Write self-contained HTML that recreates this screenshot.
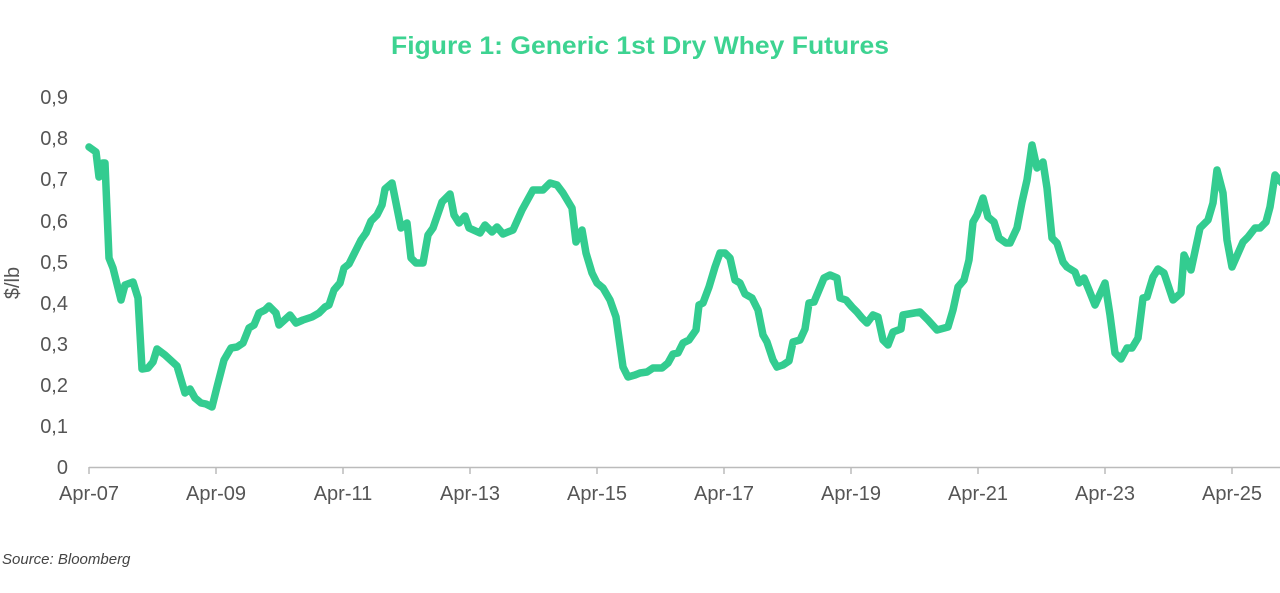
<!DOCTYPE html>
<html><head><meta charset="utf-8"><style>
body{margin:0;background:#fff;width:1280px;height:588px;overflow:hidden;font-family:"Liberation Sans",sans-serif}
</style></head><body>
<svg width="1280" height="588" viewBox="0 0 1280 588" xmlns="http://www.w3.org/2000/svg">
<text x="640" y="54" text-anchor="middle" font-family="Liberation Sans Narrow, Liberation Sans, sans-serif" font-weight="bold" font-size="25" fill="#3dd391" textLength="498" lengthAdjust="spacingAndGlyphs">Figure 1: Generic 1st Dry Whey Futures</text>
<g font-size="20" fill="#555" text-anchor="end">
<text x="68" y="474">0</text>
<text x="68" y="433">0,1</text>
<text x="68" y="392">0,2</text>
<text x="68" y="351">0,3</text>
<text x="68" y="310">0,4</text>
<text x="68" y="269">0,5</text>
<text x="68" y="228">0,6</text>
<text x="68" y="186">0,7</text>
<text x="68" y="145">0,8</text>
<text x="68" y="104">0,9</text>
</g>
<text transform="translate(19,283) rotate(-90)" text-anchor="middle" font-size="20" fill="#555">$/lb</text>
<line x1="89" y1="467.5" x2="1280" y2="467.5" stroke="#bbb" stroke-width="1.5"/>
<g stroke="#bbb" stroke-width="1.5">
<line x1="89" y1="467" x2="89" y2="474"/><line x1="216" y1="467" x2="216" y2="474"/><line x1="343" y1="467" x2="343" y2="474"/><line x1="470" y1="467" x2="470" y2="474"/><line x1="597" y1="467" x2="597" y2="474"/><line x1="724" y1="467" x2="724" y2="474"/><line x1="851" y1="467" x2="851" y2="474"/><line x1="978" y1="467" x2="978" y2="474"/><line x1="1105" y1="467" x2="1105" y2="474"/><line x1="1232" y1="467" x2="1232" y2="474"/>
</g>
<g font-size="20" fill="#555" text-anchor="middle">
<text x="89" y="500">Apr-07</text><text x="216" y="500">Apr-09</text><text x="343" y="500">Apr-11</text><text x="470" y="500">Apr-13</text><text x="597" y="500">Apr-15</text><text x="724" y="500">Apr-17</text><text x="851" y="500">Apr-19</text><text x="978" y="500">Apr-21</text><text x="1105" y="500">Apr-23</text><text x="1232" y="500">Apr-25</text>
</g>
<polyline fill="none" stroke="#33cc90" stroke-width="7.5" stroke-linejoin="round" stroke-linecap="round" points="89,147 96,152 99,177 103,163 105,163 109,258 113,268 121,300 125,285 133,282 138,298 142,369 148,368 153,362 157,349 165,355 177,366 185,393 190,389 195,398 201,403 206,404 212,407 217,387 224,360 231,348 237,347 243,343 249,328 254,325 259,313 265,310 269,306 276,313 279,325 290,315 296,323 303,320 312,317 319,313 325,307 329,305 334,290 340,283 344,268 349,264 356,250 361,240 366,233 371,221 377,215 382,205 385,189 392,183 395,198 401,228 407,223 411,258 416,263 423,263 428,235 433,228 442,202 450,194 454,215 459,223 465,216 469,228 480,233 485,225 492,232 497,227 503,234 513,230 522,210 533,190 543,190 550,183 557,185 563,193 572,208 576,242 582,230 586,253 592,273 597,283 603,288 610,300 616,317 623,367 628,377 635,375 640,373 647,372 653,368 662,368 668,363 673,354 678,353 683,343 689,340 696,330 699,305 703,303 709,287 715,267 720,253 725,253 730,258 735,280 740,283 745,294 752,298 758,310 763,335 767,342 773,360 777,367 783,365 789,361 793,342 800,340 805,329 809,303 814,302 824,278 830,275 837,278 840,298 846,300 852,307 857,312 862,318 867,323 873,315 878,317 883,340 888,345 893,332 901,329 903,315 920,312 928,320 937,330 948,327 953,310 958,287 964,280 969,260 973,222 977,215 983,198 988,217 994,222 999,238 1006,243 1010,243 1017,228 1022,202 1027,180 1032,145 1037,168 1043,162 1047,188 1052,238 1057,243 1063,262 1067,267 1075,272 1079,283 1084,278 1089,290 1095,305 1105,283 1110,315 1115,353 1121,359 1127,348 1132,348 1138,338 1143,298 1147,297 1153,277 1158,269 1164,273 1173,300 1181,293 1184,255 1191,270 1200,228 1208,220 1213,203 1217,170 1223,193 1227,240 1232,267 1243,242 1248,237 1255,228 1260,228 1266,222 1270,207 1275,175 1282,183"/>
<text x="2" y="564" font-size="15" font-style="italic" fill="#444">Source: Bloomberg</text>
</svg>
</body></html>
